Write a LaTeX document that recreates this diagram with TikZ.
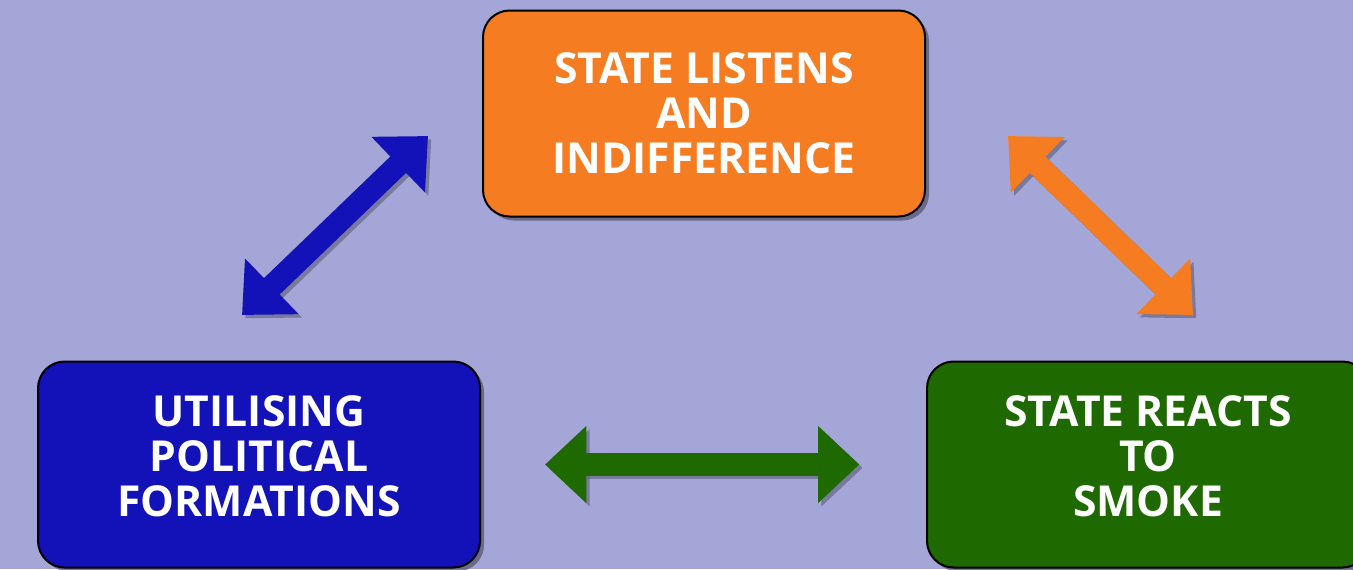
\documentclass[tikz,border=0pt]{standalone}
\usepackage{fontspec}
\setmainfont{Open Sans}
\usepackage{tikz}
\usetikzlibrary{arrows.meta, positioning, shadows}
\definecolor{bgLilac}{RGB}{165,166,216}
\definecolor{listenOrange}{RGB}{246,124,33}
\definecolor{utilBlue}{RGB}{18,18,184}
\definecolor{smokeGreen}{RGB}{30,106,0}
\colorlet{shade}{bgLilac!55!black}

\begin{document}
\begin{tikzpicture}[
                x=0.75pt, y=-0.75pt,
                box/.style={draw=black, line width=1.5pt, rounded corners=20pt,
                    minimum width=331.5pt, minimum height=154.5pt, align=center,
                    text=white, font=\bfseries\fontsize{32}{33.75}\selectfont,
                    drop shadow={fill=shade, opacity=0.8, shadow xshift=3pt, shadow yshift=-3pt}},
                lowbox/.style={box, text depth=12pt},
                fat/.style={line width=17pt,
                    {Triangle[width=56pt,length=31pt]}-{Triangle[width=56pt,length=31pt]}},
                fatshadow/.style={fat, draw=shade, opacity=0.6,
                    transform canvas={shift={(2.5pt,-2.5pt)}}}
            ]

                % backdrop and page size
                \fill[bgLilac] (0,0) rectangle (1353,569);
                \useasboundingbox (0,0) rectangle (1353,569);

                \node[box, fill=listenOrange]   (listens)   at (704,113.5)  {STATE LISTENS\\AND\\INDIFFERENCE};
                \node[lowbox, fill=utilBlue]    (utilising) at (259,464.5)  {UTILISING\\POLITICAL\\FORMATIONS};
                \node[lowbox, fill=smokeGreen]  (smoke)     at (1148,464.5) {STATE REACTS\\TO\\SMOKE};

                \coordinate (blueLow)    at (242,315);
                \coordinate (blueHigh)   at (428,136);
                \coordinate (orangeHigh) at (1008,136);
                \coordinate (orangeLow)  at (1193,315);

                % shadows first, then the arrows on top
                \draw[fatshadow] (blueLow) -- (blueHigh);
                \draw[fatshadow] (orangeHigh) -- (orangeLow);
                \draw[fatshadow, shorten <=48pt, shorten >=50pt] (utilising.east) -- (smoke.west);

                \draw[fat, draw=utilBlue, fill=utilBlue] (blueLow) -- (blueHigh);
                \draw[fat, draw=listenOrange, fill=listenOrange] (orangeHigh) -- (orangeLow);
                \draw[fat, draw=smokeGreen, fill=smokeGreen, shorten <=48pt, shorten >=50pt] (utilising.east) -- (smoke.west);

            \end{tikzpicture}
\end{document}
